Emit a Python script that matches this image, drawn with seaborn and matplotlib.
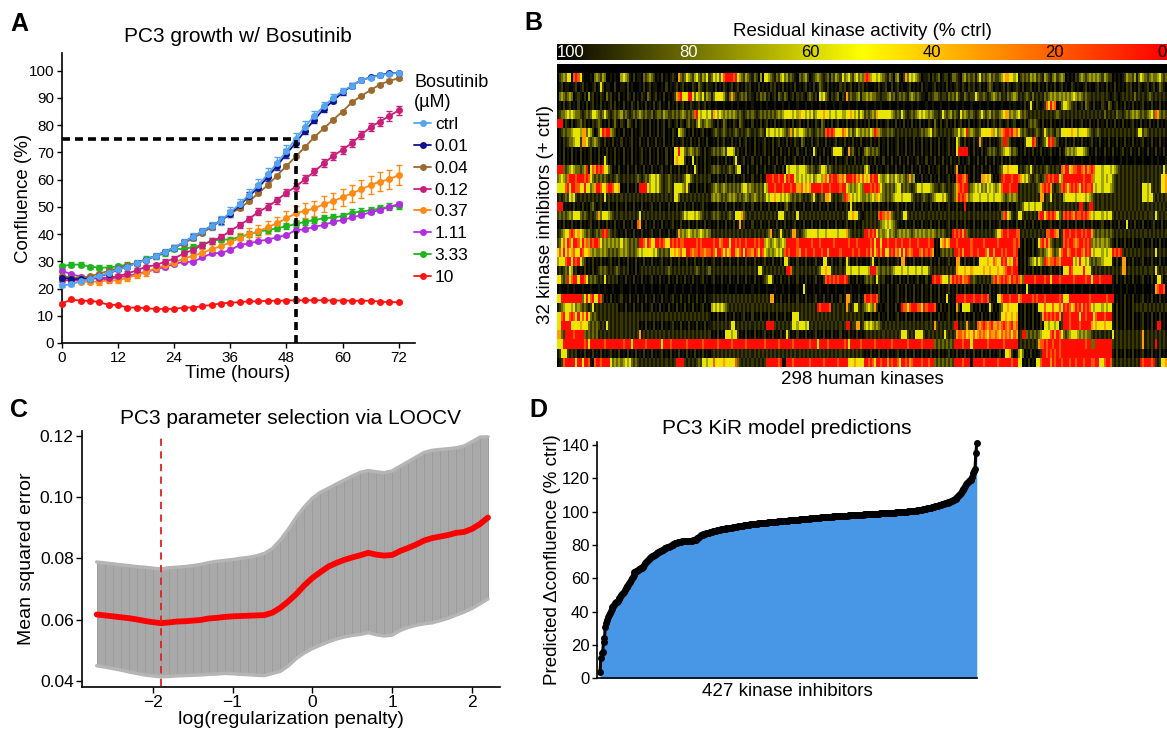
import numpy as np
import matplotlib
matplotlib.use("Agg")
import matplotlib.pyplot as plt
from matplotlib.colors import LinearSegmentedColormap
from matplotlib.ticker import FormatStrFormatter
import seaborn as sns

sns.set_theme(style="ticks")
plt.rcParams["font.family"] = ["Liberation Sans", "DejaVu Sans"]
plt.rcParams.update({"axes.edgecolor": "black", "xtick.color": "black", "ytick.color": "black",
                     "text.color": "black", "axes.labelcolor": "black", "axes.linewidth": 1.2})

# ======================= DATA =======================
# ---- Panel A: PC3 confluence over time with Bosutinib ----
time_h = [0, 2, 4, 6, 8, 10, 12, 14, 16, 18, 20, 22, 24, 26, 28, 30, 32, 34, 36,
          38, 40, 42, 44, 46, 48, 50, 52, 54, 56, 58, 60, 62, 64, 66, 68, 70, 72]
dose_labels = ["ctrl", "0.01", "0.04", "0.12", "0.37", "1.11", "3.33", "10"]
conf_ctrl = [21.2, 21.5, 22.7, 23.5, 24.5, 25.8, 27, 28, 29.5, 30.5, 32, 33.5, 35, 37, 39, 41, 43, 45, 48,
             51, 54.5, 58, 62, 66, 70.5, 75, 79.5, 83.5, 87, 90, 92.5, 94.5, 96.5, 97.5, 98.3, 98.8, 99.2]
conf_001 = [24, 23.5, 23.5, 23.5, 24.5, 25.5, 27, 28, 29.5, 30.5, 32, 33.5, 35, 37, 39, 41, 43, 45, 47.5,
            50.5, 54, 57, 61, 65, 69.5, 73.5, 78, 82, 86, 89, 92, 94.5, 96.5, 97.6, 98.4, 99, 99.2]
conf_004 = [24.5, 24, 24, 24.5, 25.5, 26.5, 27.5, 28.5, 29.5, 30.5, 32, 33.5, 35, 36.5, 38.5, 40.5, 42.5, 45, 47.5,
            49.5, 52, 55, 58, 61.5, 65, 68.5, 72, 75.7, 78.8, 82, 85, 88.4, 90.7, 92.9, 94.9, 96.3, 97.2]
conf_012 = [23, 23, 23, 23.5, 24, 24, 24.5, 25.5, 26.7, 28, 28.6, 29.8, 31, 32.9, 34.1, 36, 37.5, 38.8, 41.2,
            43.3, 45.5, 48.2, 50, 52.5, 55.2, 57.4, 60.2, 63, 66, 68.7, 71, 73.4, 76.4, 79.3, 81.3, 83.4, 85.4]
conf_037 = [24, 23.5, 22.5, 22.5, 22.5, 23, 23, 24, 25, 26, 27.5, 28.5, 29.5, 31, 32, 33, 34.5, 35.5, 37,
            38.5, 40, 41, 42.5, 44, 45.8, 47.6, 48.6, 49.4, 51, 52.1, 53.5, 55, 56.4, 58, 59.3, 60.1, 61.7]
conf_111 = [26.5, 25.3, 24.3, 23.7, 23.7, 23.3, 24.3, 24.5, 25.5, 26.1, 27, 28, 29, 29.8, 29.8, 31.4, 32.9, 33.1, 34.1,
            36, 36.6, 37.4, 38, 38.8, 39.6, 41.5, 41.7, 42.7, 43.3, 44.5, 45.2, 46.1, 47, 48, 48.8, 50, 51]
conf_333 = [28.2, 28.8, 28.8, 28, 27.7, 27.7, 28.2, 28.8, 29.2, 31, 31.9, 32.9, 34.7, 34.4, 35.3, 36, 37.5, 38, 38,
            39, 39.9, 40.9, 41.5, 42.1, 42.9, 43.7, 44.5, 45.2, 45.8, 46.1, 46.6, 47.9, 48.2, 48.8, 49.4, 50, 50.4]
conf_10 = [14.5, 16, 15.5, 15.5, 15, 14, 14, 13, 13, 12.8, 12.5, 12.5, 12.5, 13, 13, 13.5, 14, 14.5, 14.8,
           15, 15.3, 15.3, 15.5, 15.5, 15.6, 15.7, 15.7, 15.7, 15.7, 15.6, 15.6, 15.5, 15.5, 15.5, 15.2, 15, 15]
err_ctrl = [0.5, 0.5, 0.5, 0.6, 0.6, 0.7, 0.7, 0.8, 0.8, 0.9, 1.0, 1.0, 1.1, 1.2, 1.3, 1.4, 1.5, 1.6, 1.8,
            1.9, 2.0, 2.1, 2.2, 2.2, 2.2, 2.1, 2.0, 1.8, 1.6, 1.4, 1.2, 1.0, 0.8, 0.7, 0.6, 0.5, 0.5]
err_001 = [0.4, 0.4, 0.4, 0.5, 0.5, 0.5, 0.6, 0.6, 0.7, 0.7, 0.8, 0.8, 0.9, 0.9, 1.0, 1.0, 1.1, 1.2, 1.3,
           1.4, 1.5, 1.5, 1.6, 1.6, 1.6, 1.5, 1.4, 1.3, 1.2, 1.0, 0.9, 0.8, 0.7, 0.6, 0.5, 0.5, 0.4]
err_004 = [0.4, 0.4, 0.4, 0.4, 0.4, 0.4, 0.4, 0.5, 0.5, 0.5, 0.5, 0.5, 0.5, 0.5, 0.5, 0.6, 0.6, 0.6, 0.6,
           0.6, 0.6, 0.6, 0.6, 0.6, 0.6, 0.6, 0.6, 0.6, 0.6, 0.6, 0.6, 0.6, 0.5, 0.5, 0.5, 0.5, 0.5]
err_012 = [0.6, 0.6, 0.6, 0.6, 0.7, 0.7, 0.7, 0.8, 0.8, 0.8, 0.9, 0.9, 0.9, 1.0, 1.0, 1.0, 1.1, 1.1, 1.1,
           1.2, 1.2, 1.2, 1.3, 1.3, 1.3, 1.4, 1.4, 1.4, 1.5, 1.5, 1.5, 1.6, 1.6, 1.6, 1.7, 1.7, 1.7]
err_037 = [1.0, 1.0, 1.0, 1.0, 1.1, 1.1, 1.1, 1.2, 1.2, 1.3, 1.3, 1.4, 1.4, 1.5, 1.5, 1.6, 1.7, 1.8, 1.9,
           2.0, 2.1, 2.2, 2.3, 2.4, 2.5, 2.6, 2.7, 2.8, 2.9, 3.0, 3.1, 3.2, 3.3, 3.4, 3.5, 3.6, 3.8]
err_111 = [0.5, 0.5, 0.5, 0.5, 0.5, 0.5, 0.5, 0.5, 0.5, 0.5, 0.5, 0.5, 0.5, 0.5, 0.5, 0.5, 0.5, 0.5, 0.5,
           0.5, 0.5, 0.5, 0.5, 0.5, 0.5, 0.5, 0.5, 0.5, 0.5, 0.5, 0.5, 0.5, 0.6, 0.6, 0.6, 0.6, 0.6]
err_333 = [0.8, 0.8, 0.8, 0.8, 0.8, 0.8, 0.8, 0.9, 0.9, 0.9, 0.9, 0.9, 1.0, 1.0, 1.0, 1.0, 1.0, 1.0, 1.1,
           1.1, 1.1, 1.1, 1.1, 1.1, 1.1, 1.1, 1.2, 1.2, 1.2, 1.2, 1.2, 1.2, 1.2, 1.2, 1.3, 1.3, 1.3]
err_10 = [0.4, 0.4, 0.4, 0.4, 0.4, 0.4, 0.4, 0.4, 0.4, 0.4, 0.4, 0.4, 0.4, 0.4, 0.4, 0.4, 0.4, 0.4, 0.4,
          0.4, 0.4, 0.4, 0.4, 0.4, 0.4, 0.4, 0.4, 0.4, 0.4, 0.4, 0.4, 0.4, 0.4, 0.4, 0.4, 0.4, 0.4]
threshold_conf = 75
threshold_time = 50

# ---- Panel C: LOOCV parameter selection ----
log_penalty = [-2.7, -2.6, -2.5, -2.4, -2.3, -2.2, -2.1, -2.0, -1.9, -1.8, -1.7, -1.6, -1.5, -1.4, -1.3, -1.2, -1.1,
               -1.0, -0.9, -0.8, -0.7, -0.6, -0.5, -0.4, -0.3, -0.2, -0.1, 0.0, 0.1, 0.2, 0.3, 0.4, 0.5, 0.6, 0.7,
               0.8, 0.9, 1.0, 1.1, 1.2, 1.3, 1.4, 1.5, 1.6, 1.7, 1.8, 1.9, 2.0, 2.1, 2.2]
mse_mean = [.0617, .0614, .0611, .0608, .0605, .0601, .0596, .0592, .0589, .0591, .0594, .0595, .0597, .0599, .0604,
            .0606, .0609, .0611, .0612, .0613, .0614, .0615, .0623, .0639, .0660, .0684, .0712, .0736, .0755, .0773,
            .0785, .0795, .0803, .0810, .0818, .0812, .0809, .0811, .0824, .0834, .0845, .0858, .0866, .0871, .0876,
            .0883, .0886, .0896, .0912, .0933]
mse_upper = [.0788, .0785, .0782, .0779, .0776, .0773, .0771, .0768, .0765, .0769, .0771, .0773, .0776, .0780, .0786,
             .0790, .0793, .0796, .0800, .0803, .0808, .0816, .0832, .0860, .0895, .0934, .0968, .0996, .1015, .1028,
             .1042, .1055, .1068, .1080, .1086, .1082, .1079, .1085, .1100, .1115, .1130, .1145, .1152, .1155, .1157,
             .1160, .1166, .1180, .1195, .1196]
mse_lower = [.0450, .0446, .0441, .0436, .0430, .0425, .0420, .0417, .0414, .0415, .0417, .0418, .0419, .0420, .0422,
             .0423, .0425, .0424, .0422, .0421, .0419, .0418, .0425, .0432, .0450, .0474, .0492, .0506, .0517, .0528,
             .0537, .0544, .0549, .0552, .0558, .0551, .0547, .0550, .0565, .0575, .0582, .0587, .0590, .0597, .0605,
             .0615, .0625, .0637, .0652, .0668]
best_log_penalty = -1.9

# ---- Panel D: sorted model predictions for 427 kinase inhibitors ----
kir_pred = [
    4, 12, 15, 16, 22, 24, 31, 33, 35, 36.5,
    38, 39, 40.5, 41.5, 42.5, 43.5, 44, 45, 45.5, 46,
    46.5, 47.5, 48, 49, 50, 50.5, 51, 52, 53, 54,
    55, 55.5, 56, 57, 58, 59, 60, 61, 62, 63.5,
    64, 64.3, 64.6, 65, 65.3, 65.6, 66, 66.3, 66.6, 67,
    68, 69, 70, 70.5, 71, 71.5, 72, 72.5, 73, 73.3,
    73.6, 74, 74.3, 74.6, 75, 75.3, 75.6, 76, 76.3, 76.6,
    77, 77.3, 77.6, 78, 78.2, 78.4, 78.6, 78.8, 79, 79.3,
    79.6, 79.9, 80.2, 80.5, 80.8, 81, 81.3, 81.5, 81.7, 81.9,
    82, 82.1, 82.1, 82.2, 82.2, 82.3, 82.3, 82.4, 82.4, 82.5,
    82.5, 82.6, 82.6, 82.7, 82.7, 82.8, 82.8, 82.9, 83, 83.5,
    84, 84.5, 85, 85.5, 86, 86.2, 86.3, 86.5, 86.6, 86.8,
    87, 87.2, 87.3, 87.5, 87.6, 87.8, 87.9, 88.1, 88.2, 88.4,
    88.5, 88.6, 88.8, 88.9, 89.1, 89.2, 89.3, 89.4, 89.5, 89.6,
    89.7, 89.8, 89.9, 90, 90.1, 90.2, 90.3, 90.3, 90.4, 90.5,
    90.6, 90.7, 90.8, 90.9, 91, 91.1, 91.2, 91.3, 91.4, 91.5,
    91.6, 91.7, 91.7, 91.8, 91.9, 92, 92.1, 92.1, 92.2, 92.3,
    92.4, 92.4, 92.5, 92.6, 92.6, 92.7, 92.8, 92.9, 92.9, 93,
    93, 93.1, 93.1, 93.2, 93.2, 93.3, 93.4, 93.4, 93.5, 93.5,
    93.6, 93.7, 93.8, 93.8, 93.9, 93.9, 94, 94, 94.1, 94.1,
    94.1, 94.2, 94.2, 94.3, 94.3, 94.4, 94.4, 94.5, 94.5, 94.6,
    94.6, 94.6, 94.7, 94.7, 94.8, 94.8, 94.9, 94.9, 95, 95,
    95.1, 95.1, 95.2, 95.2, 95.3, 95.3, 95.4, 95.4, 95.5, 95.5,
    95.6, 95.6, 95.7, 95.7, 95.8, 95.8, 95.9, 95.9, 96, 96,
    96.1, 96.1, 96.2, 96.2, 96.3, 96.3, 96.4, 96.4, 96.5, 96.5,
    96.6, 96.6, 96.7, 96.7, 96.8, 96.8, 96.8, 96.9, 96.9, 97,
    97, 97, 97.1, 97.1, 97.2, 97.2, 97.2, 97.3, 97.3, 97.3,
    97.4, 97.4, 97.4, 97.5, 97.5, 97.5, 97.6, 97.6, 97.7, 97.7,
    97.7, 97.8, 97.8, 97.8, 97.9, 97.9, 97.9, 98, 98, 98,
    98.1, 98.1, 98.1, 98.2, 98.2, 98.2, 98.3, 98.3, 98.3, 98.4,
    98.4, 98.4, 98.5, 98.5, 98.5, 98.6, 98.6, 98.6, 98.7, 98.7,
    98.7, 98.8, 98.8, 98.8, 98.9, 98.9, 98.9, 99, 99, 99,
    99.1, 99.1, 99.1, 99.2, 99.2, 99.2, 99.3, 99.3, 99.3, 99.4,
    99.4, 99.4, 99.5, 99.5, 99.5, 99.6, 99.6, 99.7, 99.7, 99.8,
    99.8, 99.8, 99.9, 99.9, 100, 100, 100.1, 100.1, 100.2, 100.2,
    100.3, 100.3, 100.4, 100.4, 100.5, 100.5, 100.6, 100.7, 100.7, 100.8,
    100.9, 101, 101.1, 101.2, 101.3, 101.4, 101.5, 101.6, 101.7, 101.8,
    102, 102.1, 102.2, 102.4, 102.5, 102.6, 102.8, 102.9, 103, 103.2,
    103.3, 103.5, 103.6, 103.8, 104, 104.1, 104.3, 104.5, 104.7, 104.9,
    105, 105.2, 105.4, 105.5, 105.7, 105.9, 106.1, 106.3, 106.6, 106.9,
    107.1, 107.4, 107.6, 108.1, 108.7, 109.3, 110, 110.8, 111.5, 112.3,
    113, 113.8, 114.5, 115.5, 116.5, 117.3, 118, 118.5, 119, 119.3,
    119.6, 121, 123, 124.5, 125.5, 135, 141]

# ---- Panel B: residual kinase activity (33 rows x 298 kinases) ----
# each character is one kinase; digit = activity level (see LEVEL_ACTIVITY, % ctrl)
LEVEL_ACTIVITY = [100, 95, 89, 79, 68, 55, 44, 31, 17, 3]
colorbar_ticks = [100, 80, 60, 40, 20, 0]
ctrl_row = ["0" * 75, "0" * 75, "0" * 75, "0" * 73]
kinase_activity_codes = [
    ctrl_row,
    ["02343 55089 85100 01034 32430 01010 04543 10201 10323 43201 02010 12107 32354 32453 24352",
     "35453 68999 98954 32432 13204 05543 21324 53423 21032 34201 23432 12313 24325 34532 45343",
     "89845 54543 21320 34102 73545 43201 12021 23012 20133 21034 23231 35232 34232 23467 76545",
     "12323 24342 32143 21342 34301 01021 34323 43434 32432 20101 01243 32413 54323 43345 323"],
    ["01201 10012 01201 00120 15201 10020 01102 01000 10201 20110 01020 10120 12010 02103 21021",
     "10201 02101 20120 10212 01020 10102 12010 20101 02010 12010 20132 10201 01021 20120 10212",
     "01000 10201 20020 12010 01201 01020 10012 01010 20101 21021 02120 12010 23201 10120 21012",
     "10201 12010 20102 01020 12010 02101 00120 10012 01020 10201 01021 20102 10120 12013 210"],
    ["03432 34301 21020 41201 02103 12010 20102 10201 02103 20120 10201 01278 95569 95354 35243",
     "13556 54213 73212 32312 10213 23120 12032 13201 20212 10232 12054 53202 12302 17232 23413",
     "34343 32212 23423 12323 21343 23211 02123 32122 13232 42113 21225 32232 12343 23121 32343",
     "12123 21312 12132 34343 43434 34543 43232 21212 12121 01210 12121 21312 12123 21212 121"],
    ["01020 12010 20102 01201 02010 12020 10201 02102 01020 10201 20102 01020 12010 21012 01201",
     "00100 01000 10010 00100 10001 00100 01000 10010 00100 01001 00010 01000 10010 00100 01000",
     "01000 10010 00100 01001 00010 01000 10010 00100 01000 10010 00100 01000 10010 00100 01010",
     "01020 15102 10128 59780 13554 32120 12032 10201 02103 20120 10201 02010 12010 20102 010"],
    ["12334 54543 32123 23554 32353 21232 34232 12323 43232 23123 32432 23232 34323 23895 45545",
     "37645 43434 34323 21232 32123 23232 32343 45565 45475 54545 34556 75545 54554 45675 45354",
     "23234 37555 55543 23253 21232 34545 43432 21253 23423 21534 32321 23532 34232 23457 73434",
     "53232 12121 21212 12123 21212 12121 21212 12121 21312 12132 21232 34343 23234 53873 232"],
    ["99902 10201 23120 10212 32010 20131 02103 21020 12010 20102 01202 10120 21023 12135 32343",
     "21020 13201 02103 21010 20102 01201 02010 12010 20120 10201 02103 20102 01201 02010 12010",
     "10201 02010 12010 20102 01020 10201 02103 10201 20102 01201 02010 12010 20121 02101 20120",
     "01020 23232 10201 02010 10201 02010 12010 20102 01020 10201 02010 12010 20102 01020 101"],
    ["01232 33455 54773 54201 35989 94320 10201 02010 12010 20102 01201 02105 43201 02010 12010",
     "12321 23212 12321 21232 12123 21545 54545 43237 35455 43232 12323 28989 86658 76342 35434",
     "34354 98432 23232 12121 21212 21232 34523 21212 12123 35345 93432 23565 56745 34789 98978",
     "53232 12123 21253 23213 25565 57654 55654 32123 21212 12121 21212 12125 52321 21212 121"],
    ["01021 23345 52775 32343 21020 10201 02010 12010 20102 01020 10201 02010 12010 20102 01020",
     "01020 12010 20102 01201 02010 12010 20120 10201 02103 20102 01201 02010 12010 20102 01020",
     "01020 10201 02010 12010 20102 01020 10201 02010 12010 53102 01020 17201 02010 12399 32010",
     "01025 55982 01235 98932 01020 10201 02010 12010 20102 01020 10201 02010 12010 20102 010"],
    ["01020 10201 02010 12010 20102 01020 10201 02010 12010 20102 01020 10559 55323 43232 10201",
     "23232 34255 54120 10201 02010 12010 20102 01020 10201 02010 52010 20102 56552 01723 10201",
     "34323 23201 02010 12010 20102 01020 10201 02010 12010 59999 91020 10201 23232 12345 54232",
     "01020 10201 02010 12010 20134 34345 55432 01020 10201 02010 12010 20102 01020 10201 020"],
    ["01020 10201 02010 12010 20152 01020 10201 02010 12010 20102 01020 10675 65201 05020 10201",
     "01020 10201 02510 12010 20102 01020 10201 02010 12010 20102 01020 10201 02010 12010 20102",
     "12010 20102 01020 10201 02010 12010 20102 01020 10201 02010 12010 20102 01020 10201 02010",
     "01000 10010 00100 01000 10010 00100 01000 10010 00100 01000 10010 00100 01000 10010 001"],
    ["99932 34543 32349 15879 89855 32010 20102 01020 10201 02010 12010 20102 01020 10520 10201",
     "23232 12123 21355 01020 10201 02010 12010 20545 55455 54323 21235 54232 12121 21212 12121",
     "45301 02010 12010 20102 01020 10201 02010 12010 20102 70102 01020 10201 02010 12356 76565",
     "12123 25212 12123 21212 18799 67889 98797 89855 54555 45432 12121 21212 12121 21212 152"],
    ["34543 89998 99989 85323 23232 12123 21212 12123 21232 45545 32123 21212 12355 32121 21212",
     "01020 10201 02010 12010 20102 01999 89989 96989 95454 54545 34554 78598 99878 69998 97868",
     "67598 99543 45343 54343 23734 01020 10201 02010 12010 89987 91020 10776 75201 02989 99899",
     "87545 32123 21239 89899 54999 99999 99899 98455 54545 53212 12121 21212 12121 21212 567"],
    ["55558 95998 85695 53479 98658 99865 70102 01020 99995 45545 32123 21555 54362 01020 10201",
     "23432 34323 23232 45534 32323 25499 98999 89998 99778 67679 99998 99989 99989 95434 34543",
     "99989 89853 23232 45523 23212 35545 55432 21232 12123 78989 92345 45343 54543 45899 98999",
     "12121 21212 37898 97212 38986 89898 69898 89545 54555 43212 12121 21212 15545 21212 657"],
    ["12123 25452 12121 21212 12151 21212 12121 21212 12121 21212 12121 21553 12121 21212 12121",
     "34343 23234 34323 23432 34323 23545 57654 54543 23232 12123 52123 27762 12123 98754 54543",
     "34345 47543 23234 55545 55532 12123 21234 55545 32123 79898 73455 54555 45545 55432 34343",
     "12121 21212 17712 25121 21455 65545 56545 43212 12121 21212 12121 21212 15545 52121 212"],
    ["99901 01020 10201 02310 12010 20102 01020 10201 02010 12010 20102 01020 10201 02010 12010",
     "01020 10201 02010 12010 20102 01020 10201 02310 12010 20102 01020 10201 02010 12051 20102",
     "01020 10201 02010 12010 20102 01020 10201 02010 12010 20109 01020 10201 02010 12010 20102",
     "12355 45545 55212 12121 21212 12121 99212 99212 12121 21212 12121 21212 12121 21212 121"],
    ["23232 34355 53232 12123 73555 43212 12121 21212 51212 12121 21212 12121 23545 55454 32121",
     "23232 12123 21555 73212 12121 21212 12155 52121 21512 12121 21212 12121 21212 12567 55210",
     "12121 21898 78732 12125 52121 21212 12121 21212 12121 21212 12121 21212 12121 21389 54212",
     "55212 12121 89958 98985 32898 98798 89898 75455 54545 52121 21212 12121 21212 21521 212"],
    ["01020 10201 02010 12010 20102 01020 10201 02008 71020 10201 02010 12010 20102 01020 10201",
     "01020 10201 02017 12010 20102 01020 10201 02010 12010 20102 01020 10201 02010 12010 20102",
     "12121 21234 54543 21010 20102 01020 10201 02010 12010 20102 01020 10201 02010 12010 20102",
     "01020 10201 02010 12010 20102 01020 10201 02010 12010 20102 01050 10201 02010 12010 201"],
    ["12345 58985 75432 32123 23989 32121 01020 10201 02010 12010 20102 01027 34345 43434 54343",
     "12121 21212 12121 21212 12121 21237 12125 21212 77212 34555 65455 54565 55455 57321 21212",
     "99898 96343 45343 23434 34323 43434 34343 23232 12198 98979 32121 21212 12123 56899 89998",
     "81212 12121 21218 89987 12899 89989 98989 97323 23232 32121 21212 12121 21212 12121 212"],
    ["23585 98699 85978 49899 85343 43434 35343 23232 99859 86599 89865 98989 88999 99989 89999",
     "98997 89996 99898 99899 98989 94543 45434 54999 99899 99998 99989 99999 89999 99899 98999",
     "99989 69959 98999 89989 99899 98999 98990 10678 67999 89999 99899 99989 99999 89999 99989",
     "81020 10201 58979 73212 12898 99878 99898 93434 34343 21020 10201 02010 12010 20102 010"],
    ["58695 86785 69856 74343 34343 23232 34343 23234 54555 65453 23232 56767 85699 87889 88788",
     "98699 85867 99768 96988 79869 85434 34545 38989 99879 98999 89998 99799 99989 99998 99899",
     "98979 58979 56989 78695 98789 99879 89870 10232 32329 98979 99899 89998 59979 99898 99989",
     "01020 10201 23234 57323 68997 89989 98798 95455 54545 59898 92121 21212 12121 21512 121"],
    ["45558 99598 95320 10201 02010 12010 20102 01020 10201 02010 12010 20102 01020 10201 02010",
     "12010 20102 01020 10201 02010 12010 20102 05520 10201 02010 12010 55102 01020 15201 02010",
     "01025 10201 02010 12077 10102 01020 10201 02010 12010 77102 01020 15656 75687 56989 67598",
     "01020 23453 54398 78898 79999 99545 95545 32323 34555 51020 17701 02010 12010 20102 010"],
    ["12123 25412 01020 10201 23232 12123 21212 01020 12121 21212 12123 21212 12121 21232 12123",
     "12121 21212 12121 21212 12155 21212 12121 21998 21212 12121 21235 67652 12121 25545 55455",
     "55499 94323 23234 55545 54555 45545 53212 12121 21212 76567 56756 65676 57656 76578 99899",
     "01020 10201 02010 12010 20556 98665 56965 52121 21212 12121 27712 12121 21212 21521 212"],
    ["56323 95899 59985 23232 12151 21212 01020 10201 02010 12010 20102 01020 10201 02010 12010",
     "12010 20102 01020 10201 02010 12355 20102 01020 10201 02010 12010 28989 89899 89201 02010",
     "23232 15212 01020 10201 02010 12010 20198 99865 53798 98978 89232 12121 21389 78989 87989",
     "87399 99989 99989 95999 89999 99899 99989 95999 89999 91020 10201 02010 12010 20156 201"],
    ["01000 10010 00100 01000 10010 00100 01000 10010 00100 01000 10010 00100 01000 10010 00100",
     "01000 10010 00100 01000 10010 00100 01000 10010 00100 51000 10010 00100 01000 10010 00100",
     "01020 10201 02010 12010 20102 01020 10201 02010 12010 20102 01020 10201 02010 12010 20102",
     "01005 10010 00100 01000 10010 00100 01000 10010 00100 01000 10010 00100 01000 10789 980"],
    ["55999 99999 99359 58955 98201 02010 12010 20102 01020 10201 02010 12010 20102 01020 10201",
     "12121 21212 12121 21212 12121 21217 70102 01020 10201 02010 12010 20102 01020 17720 10201",
     "89989 98201 02010 12010 20102 01020 10201 02010 51010 99998 99989 99899 82010 56899 98999",
     "78999 99898 99989 99999 89556 99999 99999 89999 99989 99010 10201 02010 12010 20102 010"],
    ["12345 55453 43232 12512 12121 21212 01020 10201 02010 12010 20102 01020 10201 02010 12010",
     "45454 54321 21212 12121 21212 12121 21212 12121 21212 12121 21989 99981 21212 17212 55212",
     "34543 72010 12010 20198 86899 98869 89998 10201 02010 72055 55201 02010 15201 02356 76565",
     "01020 10201 55685 65856 85989 86798 97989 85455 54545 51020 10201 02121 21212 12121 212"],
    ["55895 58985 96859 63232 12121 21212 12121 21212 12121 21212 12121 21212 12121 21212 12121",
     "01020 10201 02010 12010 20102 01020 10201 02010 55512 12121 21212 12121 21212 12121 21212",
     "01020 10201 02010 12010 20102 01020 10201 02010 12010 20102 01020 10201 02010 12567 65757",
     "01020 10201 02798 98989 72999 89999 59989 99589 99899 91020 10201 02010 12010 20102 010"],
    ["55999 99556 57565 32323 21215 21212 12121 21212 01020 10201 02010 12010 20102 01020 10201",
     "12121 21212 55121 21212 12121 21999 92121 21212 55455 54512 12121 21212 12121 29912 27712",
     "45454 34321 21212 12121 21212 12121 21217 21212 12129 91212 72121 87898 78977 87898 78978",
     "01020 10201 02055 45545 12999 89999 89999 97676 56765 61020 10201 02010 12010 20199 010"],
    ["77329 99989 99932 32323 12121 21212 12121 21212 71212 12121 21212 12121 21212 12121 21212",
     "01020 10555 45520 10201 02010 12010 20102 01520 10201 02010 12010 20102 01020 10201 02010",
     "12121 21212 12121 21255 52121 55552 12121 21215 21212 78878 67686 78787 68778 76878 78687",
     "12993 23232 34565 68979 86323 45554 34343 32121 21212 15121 21212 12121 27121 21212 121"],
    ["55599 99999 99989 59999 99989 99999 99899 95999 99989 99999 95999 89999 99989 99999 98999",
     "99989 99999 89999 99899 99999 98999 99989 99999 89999 99989 99599 99899 99999 89599 99989",
     "99999 89999 99989 99999 98999 99989 99993 23232 32329 99989 99599 99999 89999 99989 99999",
     "12121 21212 78898 99899 89999 99999 99989 93399 99999 92121 21212 12121 27121 21912 121"],
    ["12555 21212 01020 10201 02010 12010 20102 01020 10201 02010 12010 20102 01020 10201 02010",
     "12121 21212 12121 21212 12121 21212 12121 21212 12121 21212 12121 21212 12121 21212 12121",
     "01020 10201 02010 12010 20102 01020 10201 02010 12010 20102 01020 10201 02010 12015 67201",
     "45301 02010 12998 98989 89999 99999 99999 99999 99999 91020 10201 02010 12010 20102 010"],
    ["01289 99995 99599 81089 98999 95343 43454 53232 12121 21212 12121 21299 99212 12123 25545",
     "58565 67565 56832 12121 21212 12999 99989 00999 89999 99989 99999 89999 99899 99565 75656",
     "99898 59989 97989 98599 89789 99989 98993 23232 32329 99989 99099 99989 99999 89999 99899",
     "55010 20105 58999 97989 98999 89989 99899 98899 55899 82121 21212 12121 98999 89212 567"],
]

# ======================= FIGURE =======================
W, H = 1167, 732
fig = plt.figure(figsize=(W / 100, H / 100), dpi=100)


def rect(l, t, r, b):
    return [l / W, 1 - b / H, (r - l) / W, (b - t) / H]


RA = (62, 53, 415, 343)
RB = (557, 64, 1167, 367)
RBc = (557, 44, 1167, 60)
RC = (82, 431, 500, 686.6)
RD = (597, 441.7, 977, 678.3)
axA = fig.add_axes(rect(*RA))
axB = fig.add_axes(rect(*RB))
caxB = fig.add_axes(rect(*RBc))
axC = fig.add_axes(rect(*RC))
axD = fig.add_axes(rect(*RD))


def label_at(ax, r, which, text, px, py, fs, rot=0):
    l, t, rr, b = r
    xa, ya = (px - l) / (rr - l), (b - py) / (b - t)
    if which == "x":
        ax.set_xlabel(text, fontsize=fs, va="center", ha="center")
        ax.xaxis.set_label_coords(xa, ya)
    else:
        ax.set_ylabel(text, fontsize=fs, va="center", ha="center", rotation=90)
        ax.yaxis.set_label_coords(xa, ya)


def ftext(px, py, s, **kw):
    fig.text(px / W, 1 - py / H, s, ha="center", va="center", **kw)


# ---------- Panel A ----------
conf = dict(zip(dose_labels, [conf_ctrl, conf_001, conf_004, conf_012, conf_037, conf_111, conf_333, conf_10]))
errs = dict(zip(dose_labels, [err_ctrl, err_001, err_004, err_012, err_037, err_111, err_333, err_10]))
colors = {"ctrl": "#55a4f2", "0.01": "#10108c", "0.04": "#9c6a2e", "0.12": "#c8207a",
          "0.37": "#ff8a14", "1.11": "#b02ee0", "3.33": "#1fb51f", "10": "#ff1414"}
for lab in ["10", "3.33", "1.11", "0.37", "0.12", "0.04", "0.01", "ctrl"]:
    axA.errorbar(time_h, conf[lab], yerr=errs[lab], fmt="none", ecolor=colors[lab],
                 elinewidth=1.0, capsize=2, capthick=1.0, zorder=2, clip_on=False)
    sns.lineplot(x=time_h, y=conf[lab], ax=axA, color=colors[lab], marker="o", markersize=5,
                 markeredgewidth=0, linewidth=1.3, label=lab, errorbar=None, zorder=3, clip_on=False)
axA.plot([0, threshold_time], [threshold_conf, threshold_conf], color="black", lw=2.6,
         ls=(0, (2.2, 1.4)), zorder=5)
axA.plot([threshold_time, threshold_time], [0, threshold_conf], color="black", lw=2.6,
         ls=(0, (2.2, 1.4)), zorder=5)
axA.set_xlim(0, 75.5)
axA.set_ylim(0, 106.5)
axA.set_xticks([0, 12, 24, 36, 48, 60, 72])
axA.set_yticks(list(range(0, 101, 10)))
axA.tick_params(labelsize=11, length=3.5, width=1, pad=2)
sns.despine(ax=axA)
label_at(axA, RA, "x", "Time (hours)", 238, 374, 13.5)
label_at(axA, RA, "y", "Confluence (%)", 24, 198, 13.5)
handles, labels = axA.get_legend_handles_labels()
hmap = dict(zip(labels, handles))
if axA.get_legend() is not None:
    axA.get_legend().remove()
axA.legend([hmap[l] for l in dose_labels], dose_labels, title="Bosutinib\n(µM)", loc="upper left",
           bbox_to_anchor=(414 / W, 1 - 74 / H), bbox_transform=fig.transFigure, frameon=False,
           fontsize=12.5, title_fontsize=13, handlelength=1.0, handletextpad=0.2, labelspacing=0.38,
           borderpad=0, borderaxespad=0, alignment="left")
ftext(238, 36, "PC3 growth w/ Bosutinib", fontsize=15)
ftext(19, 24, "A", fontsize=18, fontweight="bold")

# ---------- Panel B ----------
STRIP_WIDTHS = [75, 75, 75, 73]


def decode_row(strips):
    vals = []
    for s, w in zip(strips, STRIP_WIDTHS):
        s = s.replace(" ", "")
        s = (s + "0" * w)[:w]
        vals.extend(LEVEL_ACTIVITY[int(c)] for c in s)
    return vals


activity = np.array([decode_row(r) for r in kinase_activity_codes], dtype=float)
cmap = LinearSegmentedColormap.from_list("kin", [(0.0, "#ff0000"), (0.5, "#ffff00"), (1.0, "#000000")])
sns.heatmap(activity, ax=axB, cmap=cmap, vmin=0, vmax=100, cbar=False,
            xticklabels=False, yticklabels=False, rasterized=True)
label_at(axB, RB, "x", "298 human kinases", 862, 380, 13.5)
label_at(axB, RB, "y", "32 kinase inhibitors (+ ctrl)", 545, 215, 13.5)
cb = fig.colorbar(axB.collections[0], cax=caxB, orientation="horizontal")
cb.outline.set_visible(False)
cb.set_ticks([])
cb.minorticks_off()
caxB.invert_xaxis()
for v in colorbar_ticks:
    caxB.text(v, 0.45, str(v), transform=caxB.get_xaxis_transform(), fontsize=12,
              ha="right" if v == 0 else "left", va="center",
              color="white" if v >= 80 else "black")
ftext(862, 32, "Residual kinase activity (% ctrl)", fontsize=13.5)
ftext(533, 23, "B", fontsize=18, fontweight="bold")

# ---------- Panel C ----------
mse_mean_a = np.array(mse_mean)
lo = mse_mean_a - np.array(mse_lower)
hi = np.array(mse_upper) - mse_mean_a
axC.fill_between(log_penalty, mse_lower, mse_upper, color="#a9a9a9", lw=0, zorder=1)
axC.errorbar(log_penalty, mse_mean, yerr=[lo, hi], fmt="none", ecolor="#9c9c9c", elinewidth=0.7,
             capsize=0, zorder=2)
axC.plot(log_penalty, mse_upper, color="#b5b5b5", lw=2.5, zorder=2)
axC.plot(log_penalty, mse_lower, color="#b5b5b5", lw=2.5, zorder=2)
sns.lineplot(x=log_penalty, y=mse_mean, ax=axC, color="#ff0000", lw=4.2, errorbar=None, zorder=4)
axC.plot([best_log_penalty, best_log_penalty], [0.0385, 0.1196], color="#e02020", lw=1.3,
         ls=(0, (4, 3)), zorder=5)
axC.set_xlim(-2.885, 2.35)
axC.set_ylim(0.0382, 0.1215)
axC.set_xticks([-2, -1, 0, 1, 2])
axC.set_yticks([0.04, 0.06, 0.08, 0.10, 0.12])
axC.yaxis.set_major_formatter(FormatStrFormatter("%.2f"))
axC.tick_params(labelsize=12.5, length=4, width=1, pad=2)
sns.despine(ax=axC)
label_at(axC, RC, "x", "log(regularization penalty)", 291, 720, 14)
label_at(axC, RC, "y", "Mean squared error", 27, 559, 14)
ftext(291, 418, "PC3 parameter selection via LOOCV", fontsize=15)
ftext(19, 410, "C", fontsize=18, fontweight="bold")

# ---------- Panel D ----------
rank = np.arange(len(kir_pred))
axD.fill_between(rank, 0, kir_pred, color="#4797e6", lw=0, zorder=1)
sns.lineplot(x=rank, y=kir_pred, ax=axD, color="black", lw=2.2, marker="o", markersize=5,
             markeredgewidth=0, errorbar=None, zorder=3, clip_on=False)
axD.set_xlim(-3.4, 426.3)
axD.set_ylim(0, 142)
axD.set_xticks([])
axD.set_yticks([0, 20, 40, 60, 80, 100, 120, 140])
axD.tick_params(labelsize=12, length=3.5, width=1, pad=2)
sns.despine(ax=axD)
label_at(axD, RD, "x", "427 kinase inhibitors", 787, 692, 13.5)
label_at(axD, RD, "y", "Predicted Δconfluence (% ctrl)", 553, 560, 13.5)
ftext(787, 428, "PC3 KiR model predictions", fontsize=15)
ftext(538, 410, "D", fontsize=18, fontweight="bold")

fig.savefig("out.png", dpi=100)
